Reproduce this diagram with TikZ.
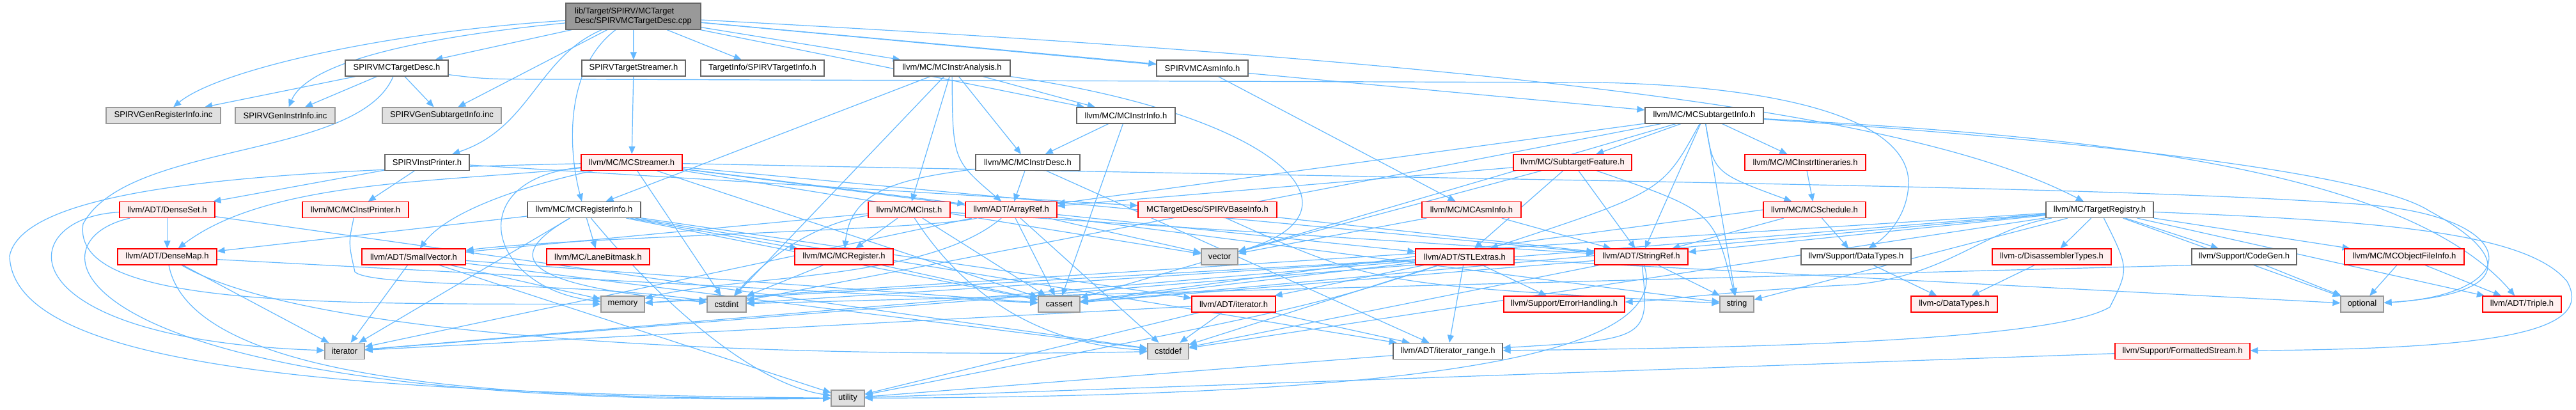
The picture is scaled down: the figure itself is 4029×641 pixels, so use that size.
\documentclass[tikz,border=0pt]{standalone}
\usepackage{fontspec}
\setsansfont{Liberation Sans}
\usepackage{tikz}
\usetikzlibrary{arrows.meta,backgrounds}
\definecolor{edgeBlue}{HTML}{63B8FF}
\definecolor{frameGrey}{HTML}{666666}
\definecolor{sysGrey}{HTML}{999999}
\definecolor{sysFill}{HTML}{E0E0E0}
\definecolor{truncRed}{HTML}{FF0000}
\definecolor{truncFill}{HTML}{FFF0F0}
\tikzset{
  >={Triangle[length=3mm,width=2.5mm]},
  every picture/.append style={font=\sffamily\fontsize{9.25}{10.7}\selectfont},
  wd/.style={minimum width=#1*0.25mm},
  hdr/.style={rectangle,draw=frameGrey,fill=white,line width=0.3mm,inner sep=0pt,minimum height=6.25mm,align=center},
  hdrtrunc/.style={hdr,draw=truncRed,fill=truncFill},
  hdrsys/.style={hdr,draw=sysGrey,fill=sysFill},
  hdrroot/.style={hdr,fill=sysGrey,align=left,minimum height=10.25mm},
  dep/.style={->,draw=edgeBlue,line width=0.3mm},
}

\begin{document}
\begin{tikzpicture}[x=0.25mm,y=-0.25mm]
  \useasboundingbox (0,0) rectangle (4029,641);
  \node[hdrroot, wd=211] (cpp) at (990.5,25.5) {lib/Target/SPIRV/MCTarget\\Desc/SPIRVMCTargetDesc.cpp};
  \node[hdr, wd=161] (tdh) at (620.5,106.5) {SPIRVMCTargetDesc.h};
  \node[hdr, wd=162] (tstr) at (991,106.5) {SPIRVTargetStreamer.h};
  \node[hdr, wd=193] (tinfo) at (1192.5,106.5) {TargetInfo/SPIRVTargetInfo.h};
  \node[hdr, wd=182] (ian) at (1489,106.5) {llvm/MC/MCInstrAnalysis.h};
  \node[hdr, wd=143] (asmi) at (1880.5,106.5) {SPIRVMCAsmInfo.h};
  \node[hdrsys, wd=179] (greg) at (255.5,180.5) {SPIRVGenRegisterInfo.inc};
  \node[hdrsys, wd=156] (ginstr) at (446,180.5) {SPIRVGenInstrInfo.inc};
  \node[hdrsys, wd=186] (gsub) at (691,180.5) {SPIRVGenSubtargetInfo.inc};
  \node[hdr, wd=154] (iinfo) at (1761,180.5) {llvm/MC/MCInstrInfo.h};
  \node[hdr, wd=185] (sti) at (2665.5,180.5) {llvm/MC/MCSubtargetInfo.h};
  \node[hdr, wd=132] (iprn) at (668,254) {SPIRVInstPrinter.h};
  \node[hdrtrunc, wd=158] (strm) at (988,254) {llvm/MC/MCStreamer.h};
  \node[hdr, wd=163] (idesc) at (1607.5,254) {llvm/MC/MCInstrDesc.h};
  \node[hdrtrunc, wd=185] (sfeat) at (2459.5,254) {llvm/MC/SubtargetFeature.h};
  \node[hdrtrunc, wd=189] (itin) at (2823.5,254) {llvm/MC/MCInstrItineraries.h};
  \node[hdrtrunc, wd=149] (dset) at (261.5,328) {llvm/ADT/DenseSet.h};
  \node[hdrtrunc, wd=166] (mcip) at (556,328) {llvm/MC/MCInstPrinter.h};
  \node[hdr, wd=177] (reginfo) at (913.5,328) {llvm/MC/MCRegisterInfo.h};
  \node[hdrtrunc, wd=128] (inst) at (1422,328) {llvm/MC/MCInst.h};
  \node[hdrtrunc, wd=143] (aref) at (1581.5,328) {llvm/ADT/ArrayRef.h};
  \node[hdrtrunc, wd=217] (binfo) at (1888.5,328) {MCTargetDesc/SPIRVBaseInfo.h};
  \node[hdrtrunc, wd=155] (mcasm) at (2301.5,328) {llvm/MC/MCAsmInfo.h};
  \node[hdrtrunc, wd=160] (sched) at (2838,328) {llvm/MC/MCSchedule.h};
  \node[hdr, wd=168] (treg) at (3284,328) {llvm/MC/TargetRegistry.h};
  \node[hdrtrunc, wd=155] (dmap) at (261.5,401.5) {llvm/ADT/DenseMap.h};
  \node[hdrtrunc, wd=162] (svec) at (647,401.5) {llvm/ADT/SmallVector.h};
  \node[hdrtrunc, wd=161] (lane) at (935.5,401.5) {llvm/MC/LaneBitmask.h};
  \node[hdrtrunc, wd=154] (mreg) at (1320,401.5) {llvm/MC/MCRegister.h};
  \node[hdrsys, wd=57] (vec) at (1907.5,401.5) {vector};
  \node[hdrtrunc, wd=154] (stlx) at (2291,401.5) {llvm/ADT/STLExtras.h};
  \node[hdrtrunc, wd=146] (sref) at (2567,401.5) {llvm/ADT/StringRef.h};
  \node[hdr, wd=172] (sdt) at (2903,401.5) {llvm/Support/DataTypes.h};
  \node[hdrtrunc, wd=186] (dis) at (3209,401.5) {llvm-c/DisassemblerTypes.h};
  \node[hdr, wd=164] (cgen) at (3510,401.5) {llvm/Support/CodeGen.h};
  \node[hdrtrunc, wd=187] (mofi) at (3760.5,401.5) {llvm/MC/MCObjectFileInfo.h};
  \node[hdrsys, wd=68] (mem) at (974,475.5) {memory};
  \node[hdrsys, wd=61] (cint) at (1136.5,475.5) {cstdint};
  \node[hdrsys, wd=65] (cass) at (1656.5,475.5) {cassert};
  \node[hdrtrunc, wd=131] (iterh) at (1929.5,475.5) {llvm/ADT/iterator.h};
  \node[hdrtrunc, wd=189] (errh) at (2446.5,475.5) {llvm/Support/ErrorHandling.h};
  \node[hdrsys, wd=53] (str) at (2716.5,475.5) {string};
  \node[hdrtrunc, wd=135] (cdt) at (3056.5,475.5) {llvm-c/DataTypes.h};
  \node[hdrsys, wd=67] (opt) at (3694.5,475.5) {optional};
  \node[hdrtrunc, wd=123] (trip) at (3944.5,475.5) {llvm/ADT/Triple.h};
  \node[hdrsys, wd=62] (iter) at (539,549) {iterator};
  \node[hdrsys, wd=64] (cdef) at (1827,549) {cstddef};
  \node[hdr, wd=171] (irange) at (2264.5,549) {llvm/ADT/iterator\_range.h};
  \node[hdrtrunc, wd=211] (fstr) at (3413.5,549) {llvm/Support/FormattedStream.h};
  \node[hdrsys, wd=52] (util) at (1326,622.5) {utility};

  \begin{scope}[on background layer]
  \draw[dep] (cpp) -- (tdh);
  \draw[dep] (cpp) .. controls (600,50) and (340,110) .. (greg);
  \draw[dep] (cpp) .. controls (640,60) and (480,100) .. (ginstr);
  \draw[dep] (cpp) -- (gsub);
  \draw[dep] (cpp) .. controls (840,90) and (830,200) .. (iprn);
  \draw[dep] (cpp) .. controls (880,110) and (890,240) .. (reginfo);
  \draw[dep] (cpp) -- (tstr);
  \draw[dep] (cpp) -- (tinfo);
  \draw[dep] (cpp) -- (ian);
  \draw[dep] (cpp) -- (asmi);
  \draw[dep] (cpp) -- (iinfo);
  \draw[dep] (cpp) -- (sti);
  \draw[dep] (cpp) .. controls (2400,100) and (3000,180) .. (treg);

  \draw[dep] (tdh) -- (greg);
  \draw[dep] (tdh) -- (ginstr);
  \draw[dep] (tdh) -- (gsub);
  \draw[dep] (tdh) .. controls (560,250) and (200,220) .. (130,350) .. controls (110,480) and (500,475) .. (mem);
  \draw[dep] (tdh) .. controls (760,124) .. (900,124) -- (2500,129) .. controls (2800,135) and (2990,190) .. (2985,290) .. controls (2982,340) and (2950,370) .. (sdt);

  \draw[dep] (tstr) -- (strm);
  \draw[dep] (iprn) -- (dset);
  \draw[dep] (iprn) -- (mcip);
  \draw[dep] (iprn) -- (binfo);
  \draw[dep] (asmi) -- (mcasm);

  \draw[dep] (ian) .. controls (1490,250) .. (aref);
  \draw[dep] (ian) -- (inst);
  \draw[dep] (ian) -- (idesc);
  \draw[dep] (ian) -- (iinfo);
  \draw[dep] (ian) -- (reginfo);
  \draw[dep] (ian) .. controls (2000,180) and (2150,330) .. (vec);
  \draw[dep] (ian) -- (cint);

  \draw[dep] (iinfo) -- (idesc);
  \draw[dep] (iinfo) -- (cass);

  \draw[dep] (idesc) -- (aref);
  \draw[dep] (idesc) -- (irange);
  \draw[dep] (idesc) .. controls (1400,280) and (1330,300) .. (mreg);

  \draw[dep] (reginfo) -- (dmap);
  \draw[dep] (reginfo) -- (lane);
  \draw[dep] (reginfo) -- (mreg);
  \draw[dep] (reginfo) -- (iterh);
  \draw[dep] (reginfo) -- (irange);
  \draw[dep] (reginfo) -- (cass);
  \draw[dep] (reginfo) .. controls (790,400) and (800,445) .. (cint);
  \draw[dep] (reginfo) -- (iter);
  \draw[dep] (reginfo) .. controls (1040,480) and (1180,600) .. (util);

  \draw[dep] (strm) -- (aref);
  \draw[dep] (strm) .. controls (700,285) and (420,280) .. (dmap);
  \draw[dep] (strm) .. controls (820,290) and (700,330) .. (svec);
  \draw[dep] (strm) -- (sref);
  \draw[dep] (strm) -- (cass);
  \draw[dep] (strm) -- (cint);
  \draw[dep] (strm) .. controls (720,280) and (760,450) .. (mem);
  \draw[dep] (strm) .. controls (2500,285) and (3300,290) .. (3700,320) .. controls (3950,340) and (3950,460) .. (opt);
  \draw[dep] (strm) -- (str);
  \draw[dep] (strm) .. controls (500,265) and (40,280) .. (15,400) .. controls (20,570) and (500,615) .. (util);
  \draw[dep] (strm) -- (vec);

  \draw[dep] (sti) -- (sfeat);
  \draw[dep] (sti) -- (itin);
  \draw[dep] (sti) .. controls (2680,270) .. (sched);
  \draw[dep] (sti) -- (aref);
  \draw[dep] (sti) .. controls (2600,300) .. (stlx);
  \draw[dep] (sti) -- (sref);
  \draw[dep] (sti) .. controls (3200,210) and (3750,250) .. (trip);
  \draw[dep] (sti) .. controls (3200,215) and (3700,265) .. (3800,330) .. controls (3930,400) and (3930,460) .. (opt);
  \draw[dep] (sti) -- (cass);
  \draw[dep] (sti) -- (cint);
  \draw[dep] (sti) -- (str);

  \draw[dep] (sfeat) -- (aref);
  \draw[dep] (sfeat) -- (stlx);
  \draw[dep] (sfeat) -- (sref);
  \draw[dep] (sfeat) .. controls (2680,330) .. (str);
  \draw[dep] (sfeat) -- (vec);
  \draw[dep] (itin) -- (sched);

  \draw[dep] (dset) -- (dmap);
  \draw[dep] (dset) .. controls (20,340) and (0,530) .. (iter);
  \draw[dep] (dset) -- (cdef);
  \draw[dep] (dset) .. controls (30,380) and (100,640) .. (util);

  \draw[dep] (mcip) .. controls (545,380) .. (555,425) .. controls (580,450) and (900,440) .. (cint);

  \draw[dep] (inst) -- (svec);
  \draw[dep] (inst) -- (sref);
  \draw[dep] (inst) -- (mreg);
  \draw[dep] (inst) -- (cass);
  \draw[dep] (inst) .. controls (1520,480) and (1650,540) .. (cdef);
  \draw[dep] (inst) .. controls (1300,345) and (1220,380) .. (cint);

  \draw[dep] (aref) -- (stlx);
  \draw[dep] (aref) .. controls (1450,360) and (900,370) .. (svec);
  \draw[dep] (aref) -- (cass);
  \draw[dep] (aref) -- (cdef);
  \draw[dep] (aref) -- (iter);
  \draw[dep] (aref) .. controls (1450,440) and (1150,430) .. (mem);
  \draw[dep] (aref) -- (vec);

  \draw[dep] (binfo) -- (sref);
  \draw[dep] (binfo) .. controls (2150,445) .. (str);
  \draw[dep] (mcasm) -- (sref);
  \draw[dep] (mcasm) -- (vec);

  \draw[dep] (sched) -- (sdt);
  \draw[dep] (sched) -- (sref);
  \draw[dep] (sched.west) -- (cass);

  \draw[dep] (treg) -- (dis);
  \draw[dep] (treg) -- (sref);
  \draw[dep] (treg) -- (trip);
  \draw[dep] (treg) .. controls (3330,420) .. (3300,480) .. controls (3200,540) and (2600,545) .. (irange);
  \draw[dep] (treg) -- (mofi);
  \draw[dep] (treg) -- (cgen);
  \draw[dep] (treg) .. controls (3100,360) and (3050,430) .. (2900,445) .. controls (2700,455) and (2600,470) .. (errh);
  \draw[dep] (treg) .. controls (3700,345) and (3950,360) .. (4015,440) .. controls (4060,520) and (3900,545) .. (fstr);
  \draw[dep] (treg) -- (cass);
  \draw[dep] (treg) -- (cdef);
  \draw[dep] (treg) -- (iter);
  \draw[dep] (treg) -- (mem);
  \draw[dep] (treg) -- (opt);
  \draw[dep] (treg) -- (str);

  \draw[dep] (dmap) -- (iter);
  \draw[dep] (dmap) .. controls (300,600) and (800,625) .. (util);
  \draw[dep] (dmap) -- (cass);
  \draw[dep] (dmap) .. controls (500,540) and (1300,560) .. (cdef);

  \draw[dep] (svec) -- (iter);
  \draw[dep] (svec) -- (mem);
  \draw[dep] (svec) -- (cass);
  \draw[dep] (svec) -- (cdef);
  \draw[dep] (svec) -- (util);
  \draw[dep] (mreg) -- (cass);
  \draw[dep] (mreg) -- (cint);

  \draw[dep] (stlx) -- (errh);
  \draw[dep] (stlx) -- (irange);
  \draw[dep] (stlx) -- (iterh);
  \draw[dep] (stlx) -- (cass);
  \draw[dep] (stlx) -- (cdef);
  \draw[dep] (stlx) -- (cint);
  \draw[dep] (stlx) -- (iter);
  \draw[dep] (stlx) -- (mem);
  \draw[dep] (stlx) -- (opt);
  \draw[dep] (stlx) .. controls (2050,480) .. (util);

  \draw[dep] (sref) -- (str);
  \draw[dep] (sref) .. controls (2580,530) .. (irange);
  \draw[dep] (sref) -- (cass);
  \draw[dep] (sref) -- (cdef);
  \draw[dep] (sref) .. controls (2620,560) and (2200,620) .. (util);

  \draw[dep] (sdt) -- (cdt);
  \draw[dep] (dis) -- (cdt);
  \draw[dep] (cgen) -- (opt);
  \draw[dep] (cgen.south west) -- (cint);
  \draw[dep] (mofi) -- (opt);
  \draw[dep] (mofi) -- (trip);

  \draw[dep] (iterh) -- (irange);
  \draw[dep] (iterh) -- (cdef);
  \draw[dep] (iterh) -- (iter);
  \draw[dep] (iterh) -- (util);
  \draw[dep] (irange) -- (util);
  \draw[dep] (fstr) -- (util);
  \end{scope}
\end{tikzpicture}
\end{document}
